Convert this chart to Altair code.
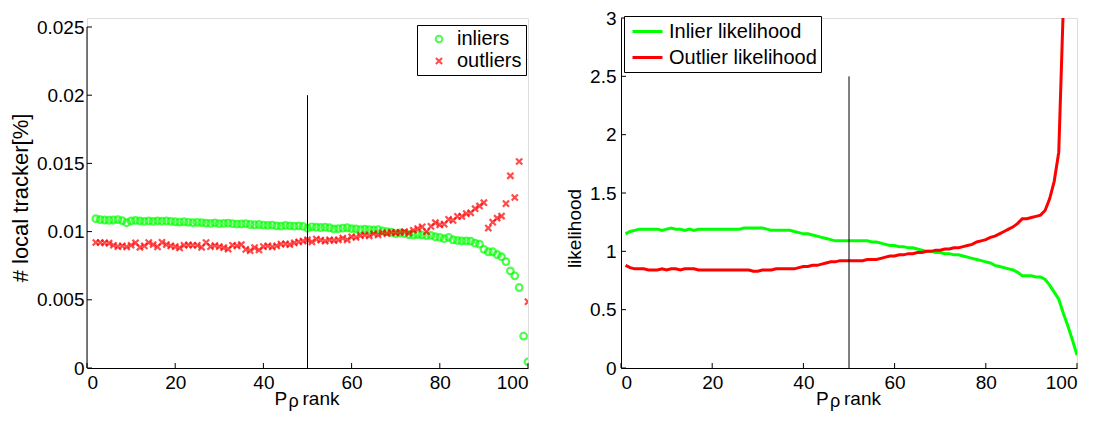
import altair as alt
import pandas as pd

# ---------------- data ----------------
rank_pts = list(range(2, 101))
inliers = [0.01095, 0.01088, 0.01085, 0.01083, 0.01085, 0.01088, 0.01080, 0.01065, 0.01078,
           0.01082, 0.01078, 0.01075, 0.01078, 0.01075, 0.01078, 0.01076, 0.01078, 0.01075, 0.01072,
           0.01070, 0.01072, 0.01068, 0.01065, 0.01068, 0.01066, 0.01062, 0.01060, 0.01064, 0.01058,
           0.01060, 0.01062, 0.01058, 0.01055, 0.01056, 0.01058, 0.01052, 0.01050, 0.01052, 0.01048,
           0.01046, 0.01048, 0.01042, 0.01040, 0.01045, 0.01042, 0.01040, 0.01042, 0.01038, 0.01025,
           0.01035, 0.01032, 0.01030, 0.01032, 0.01028, 0.01020, 0.01022, 0.01025, 0.01028, 0.01022,
           0.01020, 0.01015, 0.01018, 0.01015, 0.01012, 0.01015, 0.01005, 0.01000, 0.00995, 0.00985,
           0.00990, 0.00985, 0.00978, 0.00975, 0.00978, 0.00975, 0.00970, 0.00972, 0.00962, 0.00958,
           0.00948, 0.00958, 0.00940, 0.00935, 0.00932, 0.00932, 0.00930, 0.00915, 0.00908, 0.00870,
           0.00852, 0.00852, 0.00832, 0.00816, 0.00780, 0.00712, 0.00676, 0.00590, 0.00234, 0.00045]
outliers = [0.00920, 0.00920, 0.00918, 0.00915, 0.00900, 0.00890, 0.00895, 0.00888, 0.00900,
            0.00918, 0.00885, 0.00895, 0.00920, 0.00905, 0.00888, 0.00922, 0.00905, 0.00895, 0.00890,
            0.00880, 0.00900, 0.00902, 0.00900, 0.00900, 0.00885, 0.00920, 0.00890, 0.00898, 0.00890,
            0.00882, 0.00872, 0.00900, 0.00895, 0.00905, 0.00870, 0.00860, 0.00882, 0.00865, 0.00890,
            0.00895, 0.00888, 0.00895, 0.00908, 0.00910, 0.00905, 0.00918, 0.00925, 0.00930, 0.00940,
            0.00925, 0.00945, 0.00938, 0.00930, 0.00940, 0.00935, 0.00940, 0.00952, 0.00940, 0.00962,
            0.00958, 0.00970, 0.00975, 0.00968, 0.00985, 0.00975, 0.00990, 0.00985, 0.00995, 0.00990,
            0.00995, 0.01000, 0.00990, 0.01010, 0.01022, 0.01035, 0.01000, 0.01038, 0.01065, 0.01050,
            0.01055, 0.01090, 0.01082, 0.01112, 0.01112, 0.01132, 0.01138, 0.01168, 0.01188, 0.01212,
            0.01026, 0.01069, 0.01098, 0.01114, 0.01205, 0.01409, 0.01250, 0.01514, 0.02280, 0.00486]

rank_lines = list(range(1, 101))
inlier_lik = [1.15, 1.17, 1.18, 1.19, 1.19, 1.19, 1.19, 1.19, 1.18, 1.19,
              1.20, 1.19, 1.19, 1.18, 1.19, 1.18, 1.19, 1.19, 1.19, 1.19,
              1.19, 1.19, 1.19, 1.19, 1.19, 1.19, 1.20, 1.20, 1.20, 1.20,
              1.20, 1.19, 1.18, 1.18, 1.18, 1.18, 1.18, 1.17, 1.16, 1.15,
              1.15, 1.14, 1.13, 1.12, 1.11, 1.10, 1.09, 1.09, 1.09, 1.09,
              1.09, 1.09, 1.09, 1.09, 1.08, 1.08, 1.07, 1.06, 1.05, 1.05,
              1.04, 1.04, 1.03, 1.03, 1.02, 1.01, 1.00, 1.00, 0.99, 0.99,
              0.98, 0.98, 0.97, 0.97, 0.96, 0.95, 0.94, 0.93, 0.92, 0.91,
              0.90, 0.88, 0.87, 0.86, 0.85, 0.84, 0.82, 0.79, 0.79, 0.79,
              0.78, 0.78, 0.76, 0.71, 0.65, 0.59, 0.47, 0.36, 0.24, 0.11]
outlier_lik = [0.88, 0.86, 0.85, 0.85, 0.85, 0.84, 0.84, 0.84, 0.85, 0.84,
               0.85, 0.85, 0.84, 0.85, 0.85, 0.85, 0.84, 0.84, 0.84, 0.84,
               0.84, 0.84, 0.84, 0.84, 0.84, 0.84, 0.84, 0.84, 0.83, 0.83,
               0.84, 0.84, 0.84, 0.85, 0.85, 0.85, 0.85, 0.85, 0.86, 0.87,
               0.87, 0.88, 0.88, 0.89, 0.90, 0.91, 0.91, 0.92, 0.92, 0.92,
               0.92, 0.92, 0.92, 0.93, 0.93, 0.93, 0.94, 0.95, 0.96, 0.96,
               0.97, 0.97, 0.98, 0.98, 0.99, 0.99, 1.00, 1.00, 1.01, 1.01,
               1.02, 1.02, 1.03, 1.03, 1.04, 1.05, 1.06, 1.08, 1.09, 1.10,
               1.12, 1.13, 1.15, 1.17, 1.19, 1.21, 1.24, 1.28, 1.28, 1.29,
               1.30, 1.31, 1.35, 1.45, 1.60, 1.85, 3.10, 4.50, 6.00, 8.00]

x_ticks = [0, 20, 40, 60, 80, 100]
y_ticks_left = [0, 0.005, 0.01, 0.015, 0.02, 0.025]
y_ticks_right = [0, 0.5, 1, 1.5, 2, 2.5, 3]
split_rank = [50]
split_top_left = [0.02]
split_top_right = [2.5]

pts_series = ["inliers", "outliers"]
line_series = ["Inlier likelihood", "Outlier likelihood"]
xtitle_parts = ["P", "\u03c1", "rank"]
GREEN, RED = "#00ff00", "#ff0000"
FONT = "Liberation Sans"
FS = 19
LFS = 20
YT_L_FS = 22

# ---------------- layout (style) ----------------
LW, RW = 441, 456
H = 350            # plot height of right panel (left uses same frame)
LEFT_DROP = 9      # left panel's top tick sits lower than right panel's top
ytop_left = y_ticks_left[-1] * H / (H - LEFT_DROP)

df_pts = pd.DataFrame({
    "rank": rank_pts * 2,
    "value": inliers + outliers,
    "series": ["inliers"] * len(inliers) + ["outliers"] * len(outliers),
})
df_lines = pd.DataFrame({
    "rank": rank_lines * 2,
    "value": inlier_lik + outlier_lik,
    "series": [line_series[0]] * len(inlier_lik) + [line_series[1]] * len(outlier_lik),
})

axis_common = dict(grid=False, ticks=False, labelFont=FONT, labelFontSize=FS, titleFont=FONT,
                   titleFontWeight="normal", labelColor="black", titleColor="black",
                   domainColor="black")

xscale = alt.Scale(domain=[0, 100], nice=False)


def xtitle(W):
    offs = [(-33, 0, FS), (-19, 2, FS - 1), (-5, 0, FS)]
    layers = []
    for part, (dx, dy, fs) in zip(xtitle_parts, offs):
        layers.append(
            alt.Chart(pd.DataFrame({"t": [part]})).mark_text(
                align="left", baseline="alphabetic", font=FONT, fontSize=fs, color="black"
            ).encode(text="t:N", x=alt.value(W / 2 + dx), y=alt.value(H + 37 + dy))
        )
    return layers


# ---------- left panel ----------
yscale_l = alt.Scale(domain=[0, ytop_left], nice=False)
x_l = alt.X("rank:Q", scale=xscale,
            axis=alt.Axis(values=x_ticks, title=None, labelPadding=5, titleFontSize=FS, **axis_common))
y_l = alt.Y("value:Q", scale=yscale_l,
            axis=alt.Axis(values=y_ticks_left, format="~g", title="# local tracker[%]", domain=False,
                          titleFontSize=YT_L_FS, titleY=(H + LEFT_DROP) / 2,
                          labelPadding=3, titlePadding=4, **axis_common))

leg_l = dict(title=None, orient="none", legendX=330, legendY=7,
             strokeColor="black", fillColor="white", padding=4,
             labelFont=FONT, labelFontSize=LFS, labelColor="black",
             symbolSize=40, symbolStrokeWidth=2, rowPadding=2,
             symbolOffset=8, labelOffset=8)

points = alt.Chart(df_pts).mark_point(filled=False, strokeWidth=2.2, clip=True).encode(
    x=x_l, y=y_l,
    color=alt.Color("series:N", scale=alt.Scale(domain=pts_series, range=[GREEN, RED]),
                    legend=alt.Legend(**leg_l)),
    shape=alt.Shape("series:N", scale=alt.Scale(domain=pts_series,
                                                range=["circle", "M-1,-1L1,1M1,-1L-1,1"]),
                    legend=alt.Legend(**leg_l)),
    size=alt.Size("series:N", scale=alt.Scale(domain=pts_series, range=[44, 38]), legend=None),
)

df_xt = pd.DataFrame({"v": x_ticks})
yaxis_line_l = alt.Chart(pd.DataFrame({"a": [y_ticks_left[0]], "b": [y_ticks_left[-1]]})).mark_rule(
    color="black", strokeWidth=1).encode(x=alt.value(0), y=alt.Y("a:Q", scale=yscale_l), y2="b:Q")
yticks_l = alt.Chart(pd.DataFrame({"v": y_ticks_left})).mark_rule(color="black").encode(
    y=alt.Y("v:Q", scale=yscale_l), x=alt.value(0), x2=alt.value(5))
xticks_l = alt.Chart(df_xt).mark_rule(color="black").encode(
    x=alt.X("v:Q", scale=xscale), y=alt.value(H), y2=alt.value(H - 5))
split_l = alt.Chart(pd.DataFrame({"x": split_rank, "y0": [0], "y1": split_top_left})).mark_rule(
    color="black", strokeWidth=1).encode(x=alt.X("x:Q", scale=xscale),
                                         y=alt.Y("y0:Q", scale=yscale_l), y2="y1:Q")

left = alt.layer(points, yaxis_line_l, yticks_l, xticks_l, split_l, *xtitle(LW)).properties(
    width=LW, height=H)

# ---------- right panel ----------
yscale_r = alt.Scale(domain=[0, 3], nice=False)
x_r = alt.X("rank:Q", scale=xscale,
            axis=alt.Axis(values=x_ticks, title=None, labelPadding=5, titleFontSize=FS, **axis_common))
y_r = alt.Y("value:Q", scale=yscale_r,
            axis=alt.Axis(values=y_ticks_right, format="~g", title="likelihood", titleY=210,
                          titleFontSize=FS, labelPadding=5, titlePadding=5, **axis_common))
lines = alt.Chart(df_lines).mark_line(strokeWidth=3, clip=True).encode(
    x=x_r, y=y_r,
    color=alt.Color("series:N", scale=alt.Scale(domain=line_series, range=[GREEN, RED]),
                    legend=alt.Legend(title=None, orient="none", legendX=3, legendY=-2,
                                      strokeColor="black", fillColor="white", padding=4,
                                      labelFont=FONT, labelFontSize=LFS, labelColor="black",
                                      symbolType="M-1.5,0L1.5,0", symbolSize=400,
                                      symbolStrokeWidth=3, rowPadding=4, symbolOffset=8,
                                      labelOffset=10)),
)
yticks_r = alt.Chart(pd.DataFrame({"v": y_ticks_right})).mark_rule(color="black").encode(
    y=alt.Y("v:Q", scale=yscale_r), x=alt.value(0), x2=alt.value(5))
xticks_r = alt.Chart(df_xt).mark_rule(color="black").encode(
    x=alt.X("v:Q", scale=xscale), y=alt.value(H), y2=alt.value(H - 5))
split_r = alt.Chart(pd.DataFrame({"x": split_rank, "y0": [0], "y1": split_top_right})).mark_rule(
    color="black", strokeWidth=1).encode(x=alt.X("x:Q", scale=xscale),
                                         y=alt.Y("y0:Q", scale=yscale_r), y2="y1:Q")

right = alt.layer(lines, yticks_r, xticks_r, split_r, *xtitle(RW)).properties(width=RW, height=H)

chart = alt.hconcat(left, right, spacing=36).resolve_scale(
    color="independent", shape="independent", size="independent"
).properties(
    padding={"left": 0, "top": 0, "right": 0, "bottom": 0}
).configure_view(stroke=None).configure(background="white")

chart.save("out.html", embed_options={"renderer": "svg", "actions": False})
